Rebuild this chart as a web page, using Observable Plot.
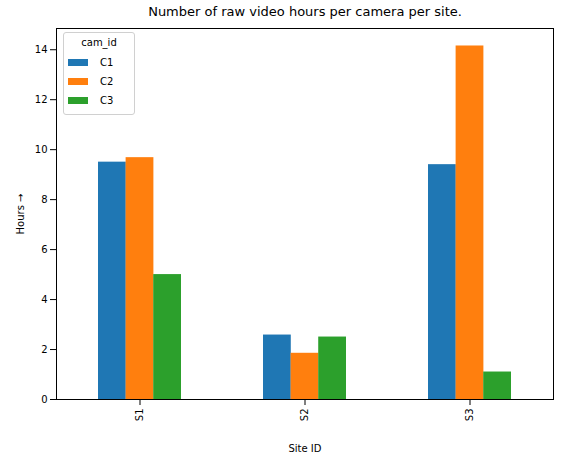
<!DOCTYPE html>
<html>
<head>
<meta charset="UTF-8">
<script src="https://cdn.jsdelivr.net/npm/d3@7"></script>
<script src="https://cdn.jsdelivr.net/npm/@observablehq/plot@0.6/dist/plot.umd.min.js"></script>
<style>
body { margin: 0; font-family: "DejaVu Sans", sans-serif; }
#wrap { position: relative; width: 563px; height: 456px; }
#legend { position: absolute; left: 63px; top: 32px; width: 70px; border: 1px solid #d0d0d0; border-radius: 3px; background: rgba(255,255,255,0.8); font-size: 10px; padding: 4px 0 4px 0; }
#legend .t { text-align: center; margin-bottom: 5px; }
#legend .r { display: flex; align-items: center; height: 19px; padding-left: 4px; }
#legend .s { width: 20px; height: 7px; margin-right: 12px; }
</style>
</head>
<body>
<div id="wrap"><div id="chart"></div><div id="legend"></div></div>
<script>
const sites = ["S1", "S2", "S3"];
const cams = ["C1", "C2", "C3"];
const colors = ["#1f77b4", "#ff7f0e", "#2ca02c"];
const c1 = [9.5, 2.58, 9.4];
const c2 = [9.68, 1.85, 14.15];
const c3 = [5.0, 2.5, 1.1];

const rows = [];
sites.forEach((s, i) => {
  rows.push({site: s, cam: "C1", v: c1[i]});
  rows.push({site: s, cam: "C2", v: c2[i]});
  rows.push({site: s, cam: "C3", v: c3[i]});
});

const W = 563, H = 456, ml = 56, mr = 10, mt = 28, mb = 57;
const band = (W - ml - mr) / sites.length / 2;
const third = band / 3;

const bars = cams.map((c, k) => Plot.barY(rows.filter(d => d.cam === c), {
  x: "site", y: "v", fill: colors[k],
  insetLeft: k * third, insetRight: (2 - k) * third
}));

const chart = Plot.plot({
  width: W, height: H,
  marginLeft: ml, marginRight: mr, marginTop: mt, marginBottom: mb,
  style: {fontFamily: "DejaVu Sans, sans-serif", fontSize: "10px", color: "#000"},
  x: {domain: sites, paddingInner: 0.5, paddingOuter: 0.25, label: "Site ID", labelAnchor: "center", labelOffset: 52, tickRotate: -90},
  y: {domain: [0, 14.85], ticks: d3.range(0, 15, 2), label: "Hours", labelAnchor: "center", labelOffset: 40},
  marks: [
    ...bars,
    Plot.frame({stroke: "#000"}),
    Plot.text(["Number of raw video hours per camera per site."], {
      frameAnchor: "top", dy: -22, fontSize: 13, text: d => d
    })
  ]
});
document.getElementById("chart").append(chart);

const lg = document.getElementById("legend");
lg.innerHTML = '<div class="t">cam_id</div>' + cams.map((c, k) =>
  `<div class="r"><div class="s" style="background:${colors[k]}"></div>${c}</div>`).join("");
</script>
</body>
</html>
